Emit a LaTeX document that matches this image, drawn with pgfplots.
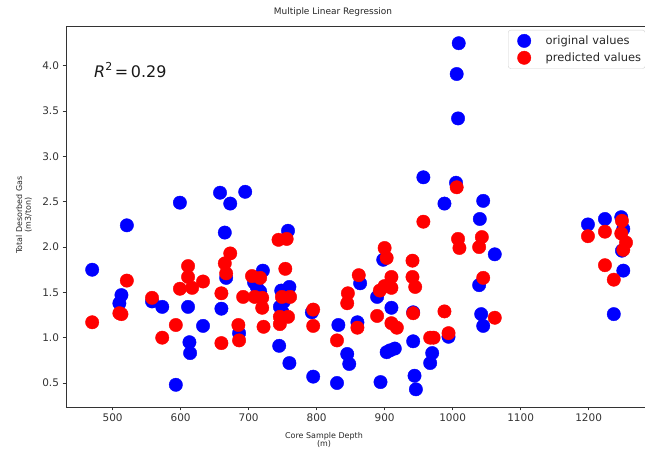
\documentclass[border=0pt]{standalone}
\usepackage{fontspec}
\setmainfont{DejaVu Sans}
\usepackage{pgfplots}
\pgfplotsset{compat=1.18}
\pgfplotstableread{
x y
470 1.75
510 1.38
513 1.47
521 2.24
558 1.40
573 1.34
593 0.48
599 2.49
611 1.34
613 0.95
614 0.83
633 1.13
658 2.60
660 1.32
665 2.16
667 1.66
673 2.48
686 1.05
695 2.61
708 1.61
712 1.56
717 1.51
721 1.74
745 0.91
746 1.34
748 1.52
750 1.28
752 1.40
758 2.18
760 1.56
760 0.72
793 1.28
795 0.57
830 0.50
832 1.14
845 0.82
848 0.71
860 1.17
864 1.60
889 1.45
894 0.51
898 1.86
903 0.84
908 0.86
910 1.33
915 0.88
942 1.28
942 0.96
944 0.58
946 0.43
957 2.77
967 0.72
970 0.83
988 2.48
994 1.01
1005 2.71
1006 3.91
1008 3.42
1009 4.25
1040 2.31
1039 1.58
1042 1.26
1045 1.13
1045 2.51
1062 1.92
1199 2.25
1224 2.31
1237 1.26
1248 2.33
1251 2.20
1249 1.96
1251 1.74
}\orig
\pgfplotstableread{
x y
470 1.17
510 1.27
513 1.26
521 1.63
558 1.44
573 1.00
593 1.14
599 1.54
611 1.79
611 1.67
617 1.55
633 1.62
660 1.49
660 0.94
665 1.82
667 1.71
673 1.93
685 1.14
686 0.97
692 1.45
705 1.68
709 1.45
717 1.66
720 1.44
720 1.33
722 1.12
744 2.08
746 1.23
746 1.15
749 1.45
754 1.76
756 2.09
758 1.23
761 1.45
795 1.31
795 1.13
830 0.97
845 1.38
846 1.49
860 1.11
862 1.69
889 1.24
893 1.52
900 1.57
900 1.99
903 1.88
910 1.67
910 1.55
910 1.16
918 1.11
941 1.85
941 1.67
945 1.56
942 1.27
957 2.28
967 1.00
972 1.00
988 1.29
994 1.05
1006 2.66
1008 2.09
1010 1.99
1043 2.11
1039 2.00
1045 1.66
1062 1.22
1199 2.12
1224 2.17
1224 1.80
1237 1.64
1249 2.29
1248 2.15
1255 2.05
1251 1.97
}\pred
\begin{document}
\begin{tikzpicture}[x=1bp,y=1bp]
\useasboundingbox (0,0) rectangle (645,450);
\begin{axis}[
  at={(66bp,43bp)}, anchor=south west,
  scale only axis, width=591.3bp, height=381bp,
  xmin=431.5, xmax=1301, ymin=0.235, ymax=4.44,
  xtick={500,600,...,1200}, ytick={0.5,1.0,...,4.0},
  xtick pos=lower, ytick pos=left, tick align=outside,
  major tick length=3.5bp,
  axis line style={black!80, line width=0.8bp},
  tick style={black!80, line width=0.8bp},
  tick label style={font=\fontsize{10.5}{12}\selectfont, text=black!80},
  /pgf/number format/assume math mode=true,
  /pgf/number format/1000 sep={},
  yticklabel style={/pgf/number format/fixed, /pgf/number format/fixed zerofill, /pgf/number format/precision=1},
  legend style={at={(axis description cs:0.7475,0.9895)}, anchor=north west,
    draw=black!18, rounded corners=2.5bp, fill=white, inner xsep=2bp, inner ysep=4bp,
    font=\fontsize{11.5}{13}\selectfont, text=black!85, row sep=3.5bp,
    nodes={inner sep=1.5bp, text width=96bp, align=left}},
  legend cell align=left,
  legend image code/.code={\path[draw=none,fill=none] (0bp,-2bp) rectangle (34bp,2bp);
    \draw[mark repeat=2,mark phase=2,#1] plot coordinates {(0bp,0bp) (14bp,0bp) (28bp,0bp)};},
]
\addplot[only marks, mark=*, mark size=6.7bp, color=blue, mark options={draw=none, fill=blue}] table[x=x,y=y] {\orig};
\addlegendentry{original values}
\addplot[only marks, mark=*, mark size=6.7bp, color=red, mark options={draw=none, fill=red}] table[x=x,y=y] {\pred};
\addlegendentry{predicted values}
\end{axis}
\node[font=\fontsize{9}{10}\selectfont, text=black!85] at (333,438) {Multiple Linear Regression};
\node[font=\fontsize{8}{9}\selectfont, text=black!85, align=center] at (324,10) {Core Sample Depth\\(m)};
\node[font=\fontsize{8}{9}\selectfont, text=black!85, align=center, rotate=90] at (24,235) {Total Desorbed Gas\\(m3/ton)};
\node[font=\fontsize{16}{18}\selectfont, text=black!90, anchor=west, inner sep=0pt] at (94,380) {\textit{R}\raisebox{0.42em}{\fontsize{11}{12}\selectfont 2}\,=\,0.29};
\end{tikzpicture}
\end{document}
